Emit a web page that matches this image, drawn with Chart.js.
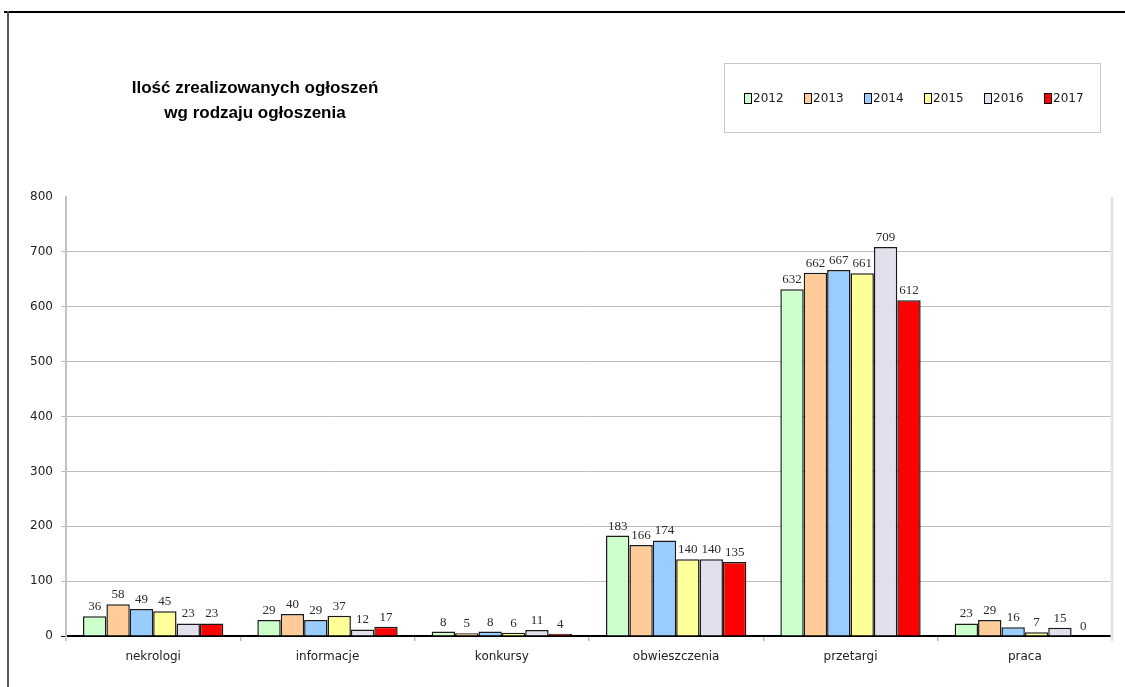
<!DOCTYPE html>
<html><head><meta charset="utf-8">
<script src="https://cdn.jsdelivr.net/npm/chart.js@4"></script>
<style>
html,body{margin:0;padding:0;background:#fff;}
#wrap{position:relative;width:1125px;height:687px;overflow:hidden;background:#fff;}
#frameTop{position:absolute;left:4px;top:11px;width:1121px;height:2px;background:#000;}
#frameLeft{position:absolute;left:7px;top:11px;width:2px;height:676px;background:#555;}
#title{position:absolute;left:105px;top:75px;width:300px;text-align:center;font:bold 17px "Liberation Sans Narrow","Liberation Sans",sans-serif;line-height:25px;color:#000;}
canvas{position:absolute;left:0;top:0;}
</style></head>
<body><div id="wrap"><canvas id="c" width="1125" height="687"></canvas><div id="frameTop"></div><div id="frameLeft"></div><div id="title">Ilość zrealizowanych ogłoszeń<br>wg rodzaju ogłoszenia</div></div>
<script>
const categories = ['nekrologi','informacje','konkursy','obwieszczenia','przetargi','praca'];
const years = ['2012','2013','2014','2015','2016','2017'];
const v2012 = [36,29,8,183,632,23];
const v2013 = [58,40,5,166,662,29];
const v2014 = [49,29,8,174,667,16];
const v2015 = [45,37,6,140,661,7];
const v2016 = [23,12,11,140,709,15];
const v2017 = [23,17,4,135,612,0];
const yTicks = [0,100,200,300,400,500,600,700,800];
const colors = ['#CCFFCC','#FFCC99','#99CCFF','#FFFF99','#E4DFEC','#FF0000'];
const seriesValues = [v2012,v2013,v2014,v2015,v2016,v2017];

const datasets = years.map((y,i)=>({
  label: y,
  data: seriesValues[i],
  backgroundColor: colors[i],
  borderColor: '#1a1a1a',
  borderWidth: 1.5,
  categoryPercentage: 0.805,
  barPercentage: 1.0
}));

const valueLabels = {
  id:'valueLabels',
  afterDatasetsDraw(chart){
    const ctx = chart.ctx;
    ctx.save();
    ctx.font = '13px "Liberation Serif", serif';
    ctx.fillStyle = '#2a2a2a';
    ctx.textAlign = 'center';
    ctx.textBaseline = 'bottom';
    chart.data.datasets.forEach((ds,di)=>{
      const meta = chart.getDatasetMeta(di);
      meta.data.forEach((bar,j)=>{
        ctx.fillText(String(ds.data[j]), bar.x, bar.y - 3);
      });
    });
    ctx.restore();
  }
};

const frameBits = {
  id:'frameBits',
  beforeDatasetsDraw(chart){
    const a = chart.chartArea, ctx = chart.ctx;
    ctx.save();
    ctx.strokeStyle = '#E6E6E6';
    ctx.lineWidth = 3;
    ctx.beginPath();
    ctx.moveTo(a.right, a.top);
    ctx.lineTo(a.right, a.bottom + 5);
    ctx.stroke();
    ctx.restore();
  },
  afterDraw(chart){
    const ctx = chart.ctx;
    ctx.save();
    ctx.strokeStyle = '#C8C8C8';
    ctx.lineWidth = 1;
    ctx.strokeRect(724.5, 63.5, 376, 69);
    ctx.font = '12px "DejaVu Sans", sans-serif';
    ctx.textBaseline = 'middle';
    ctx.textAlign = 'left';
    chart.data.datasets.forEach((ds,i)=>{
      const x = 744 + i*60;
      ctx.fillStyle = ds.backgroundColor;
      ctx.fillRect(x, 93, 7, 10);
      ctx.strokeStyle = '#000';
      ctx.strokeRect(x+0.5, 93.5, 7, 10);
      ctx.fillStyle = '#1a1a1a';
      ctx.fillText(ds.label, x + 9, 98.5);
    });
    ctx.restore();
  }
};

new Chart(document.getElementById('c'), {
  type:'bar',
  data:{ labels: categories, datasets },
  options:{
    responsive:false,
    animation:false,
    layout:{ padding:{ left:10, top:197, right:13, bottom:11 } },
    plugins:{ legend:{display:false}, tooltip:{enabled:false}, title:{display:false} },
    scales:{
      x:{
        grid:{ offset:true, drawOnChartArea:false, color:'#BBBBBB', tickLength:5, lineWidth:1.5 },
        border:{ color:'#000', width:2 },
        ticks:{ font:{ family:'"DejaVu Sans", sans-serif', size:12 }, color:'#222', padding:9 },
        afterFit(s){ s.height = 40; }
      },
      y:{
        min:0, max:800,
        afterBuildTicks(s){ s.ticks = yTicks.map(v=>({value:v})); },
        ticks:{ font:{ family:'"DejaVu Sans", sans-serif', size:12 }, color:'#222', padding:8 },
        grid:{
          color: c => (c.tick && (c.tick.value===800 || c.tick.value===0)) ? 'rgba(0,0,0,0)' : '#BEBEBE',
          tickColor: c => (c.tick && c.tick.value===800) ? 'rgba(0,0,0,0)' : (c.tick && c.tick.value===0 ? '#000' : '#BEBEBE'),
          tickLength:5
        },
        border:{ color:'#C0C0C0', width:2 },
        afterFit(s){ s.width = 56; }
      }
    }
  },
  plugins:[valueLabels, frameBits]
});
</script>
</body></html>
